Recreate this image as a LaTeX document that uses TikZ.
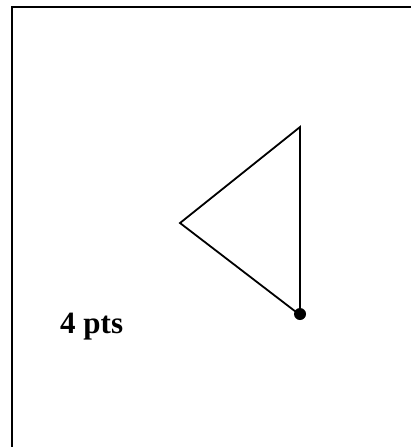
\documentclass[tikz,border=0pt]{standalone}
\usepackage{fontspec}
\setmainfont{Liberation Serif}
\begin{document}
\begin{tikzpicture}[x=1pt,y=-1pt,
  edge/.style={line width=1.8pt,line join=miter},
  frame/.style={line width=2.4pt},
  lbl/.style={font=\fontsize{31}{36}\selectfont\bfseries,inner sep=0pt}]
\useasboundingbox (0,0) rectangle (411,447);
\fill[white] (0,0) rectangle (411,447);
\coordinate (fl) at (12,447);
\coordinate (ftl) at (12,7);
\coordinate (fr) at (411,7);
\draw[frame] (fl) -- (ftl) -- (fr);
\coordinate (top) at (300,127);
\coordinate (left) at (180,223);
\coordinate (bot) at (300,315);
\draw[edge] (top) -- (left) -- (bot) -- cycle;
\fill (300,314) circle (6);
\node[lbl,anchor=base west] (pts) at (60,333) {4 pts};
\end{tikzpicture}
\end{document}
